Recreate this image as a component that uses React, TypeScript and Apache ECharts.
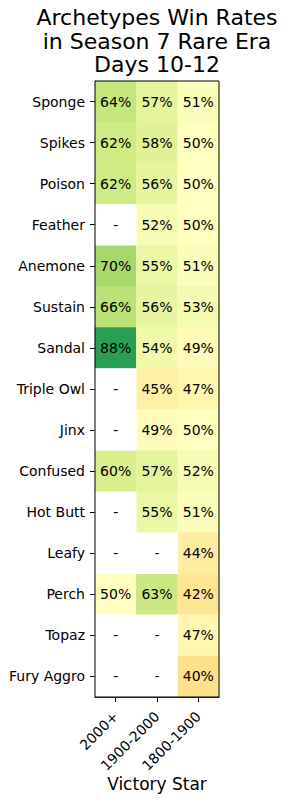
import React, { useEffect, useRef } from "react";
import * as echarts from "echarts";

const columns = ["2000+", "1900-2000", "1800-1900"];
const archetypes = [
  "Sponge", "Spikes", "Poison", "Feather", "Anemone", "Sustain", "Sandal",
  "Triple Owl", "Jinx", "Confused", "Hot Butt", "Leafy", "Perch", "Topaz", "Fury Aggro",
];
const rate2000plus = [64, 62, 62, null, 70, 66, 88, null, null, 60, null, null, 50, null, null];
const rate1900to2000 = [57, 58, 56, 52, 55, 56, 54, 45, 49, 57, 55, null, 63, null, null];
const rate1800to1900 = [51, 50, 50, 50, 51, 53, 49, 47, 50, 52, 51, 44, 42, 47, 40];

const rdYlGn = [
  "#a50026", "#d73027", "#f46d43", "#fdae61", "#fee08b", "#ffffbf",
  "#d9ef8b", "#a6d96a", "#66bd63", "#1a9850", "#006837",
];

const FONT = "DejaVu Sans";

export default function App() {
  const ref = useRef<HTMLDivElement>(null);
  useEffect(() => {
    document.body.style.margin = "0";
    const chart = echarts.init(ref.current!, null, { renderer: "svg" });
    const cols = [rate2000plus, rate1900to2000, rate1800to1900];
    const values: any[] = [];
    const missing: any[] = [];
    cols.forEach((arr, x) => {
      arr.forEach((v, y) => {
        if (v === null) missing.push([x, y, 0]);
        else values.push([x, y, v]);
      });
    });
    const gl = 95, gt = 81, gw = 124, gh = 616;
    chart.setOption({
      animation: false,
      textStyle: { fontFamily: FONT },
      grid: { left: gl, top: gt, width: gw, height: gh },
      graphic: [
        {
          type: "text",
          x: gl + gw / 2,
          y: 6,
          style: {
            text: "Archetypes Win Rates\nin Season 7 Rare Era\nDays 10-12",
            fontFamily: FONT,
            fontSize: 22,
            lineHeight: 23.5,
            fill: "#000",
            textAlign: "center",
            textVerticalAlign: "top",
          },
        },
        {
          type: "rect",
          z: 100,
          shape: { x: gl, y: gt, width: gw, height: gh },
          style: { fill: "none", stroke: "#000", lineWidth: 1 },
        },
      ],
      xAxis: {
        type: "category",
        data: columns,
        position: "bottom",
        axisLine: { show: true, lineStyle: { color: "#000" } },
        axisTick: { show: true, alignWithLabel: true, length: 5, lineStyle: { color: "#000" } },
        axisLabel: {
          rotate: 45,
          margin: 17,
          color: "#000",
          fontSize: 14,
          fontFamily: FONT,
          interval: 0,
        },
        splitLine: { show: false },
        name: "Victory Star",
        nameLocation: "middle",
        nameGap: 78,
        nameMoveOverlap: false,
        nameTextStyle: { fontSize: 17, color: "#000", fontFamily: FONT },
      },
      yAxis: {
        type: "category",
        data: archetypes,
        inverse: true,
        axisLine: { show: true, lineStyle: { color: "#000" } },
        axisTick: { show: true, alignWithLabel: true, length: 5, lineStyle: { color: "#000" } },
        axisLabel: { margin: 10, color: "#000", fontSize: 14, fontFamily: FONT, interval: 0 },
        splitLine: { show: false },
      },
      visualMap: [
        {
          show: false,
          type: "continuous",
          min: 0,
          max: 100,
          dimension: 2,
          seriesIndex: 0,
          inRange: { color: rdYlGn },
        },
        {
          show: false,
          type: "continuous",
          min: 0,
          max: 1,
          dimension: 2,
          seriesIndex: 1,
          inRange: { color: ["#ffffff", "#ffffff"] },
        },
      ],
      series: [
        {
          type: "heatmap",
          data: values,
          itemStyle: { borderWidth: 0 },
          label: {
            show: true,
            formatter: (p: any) => `${p.value[2]}%`,
            color: "#000",
            fontSize: 14,
            fontFamily: FONT,
          },
          emphasis: { disabled: true },
        },
        {
          type: "heatmap",
          data: missing,
          itemStyle: { borderWidth: 0 },
          label: {
            show: true,
            formatter: () => "-",
            color: "#000",
            fontSize: 14,
            fontFamily: FONT,
          },
          emphasis: { disabled: true },
        },
      ],
    });
    return () => chart.dispose();
  }, []);
  return (
    <div
      ref={ref}
      style={{ position: "absolute", left: 0, top: 0, width: 288, height: 803 }}
    />
  );
}
